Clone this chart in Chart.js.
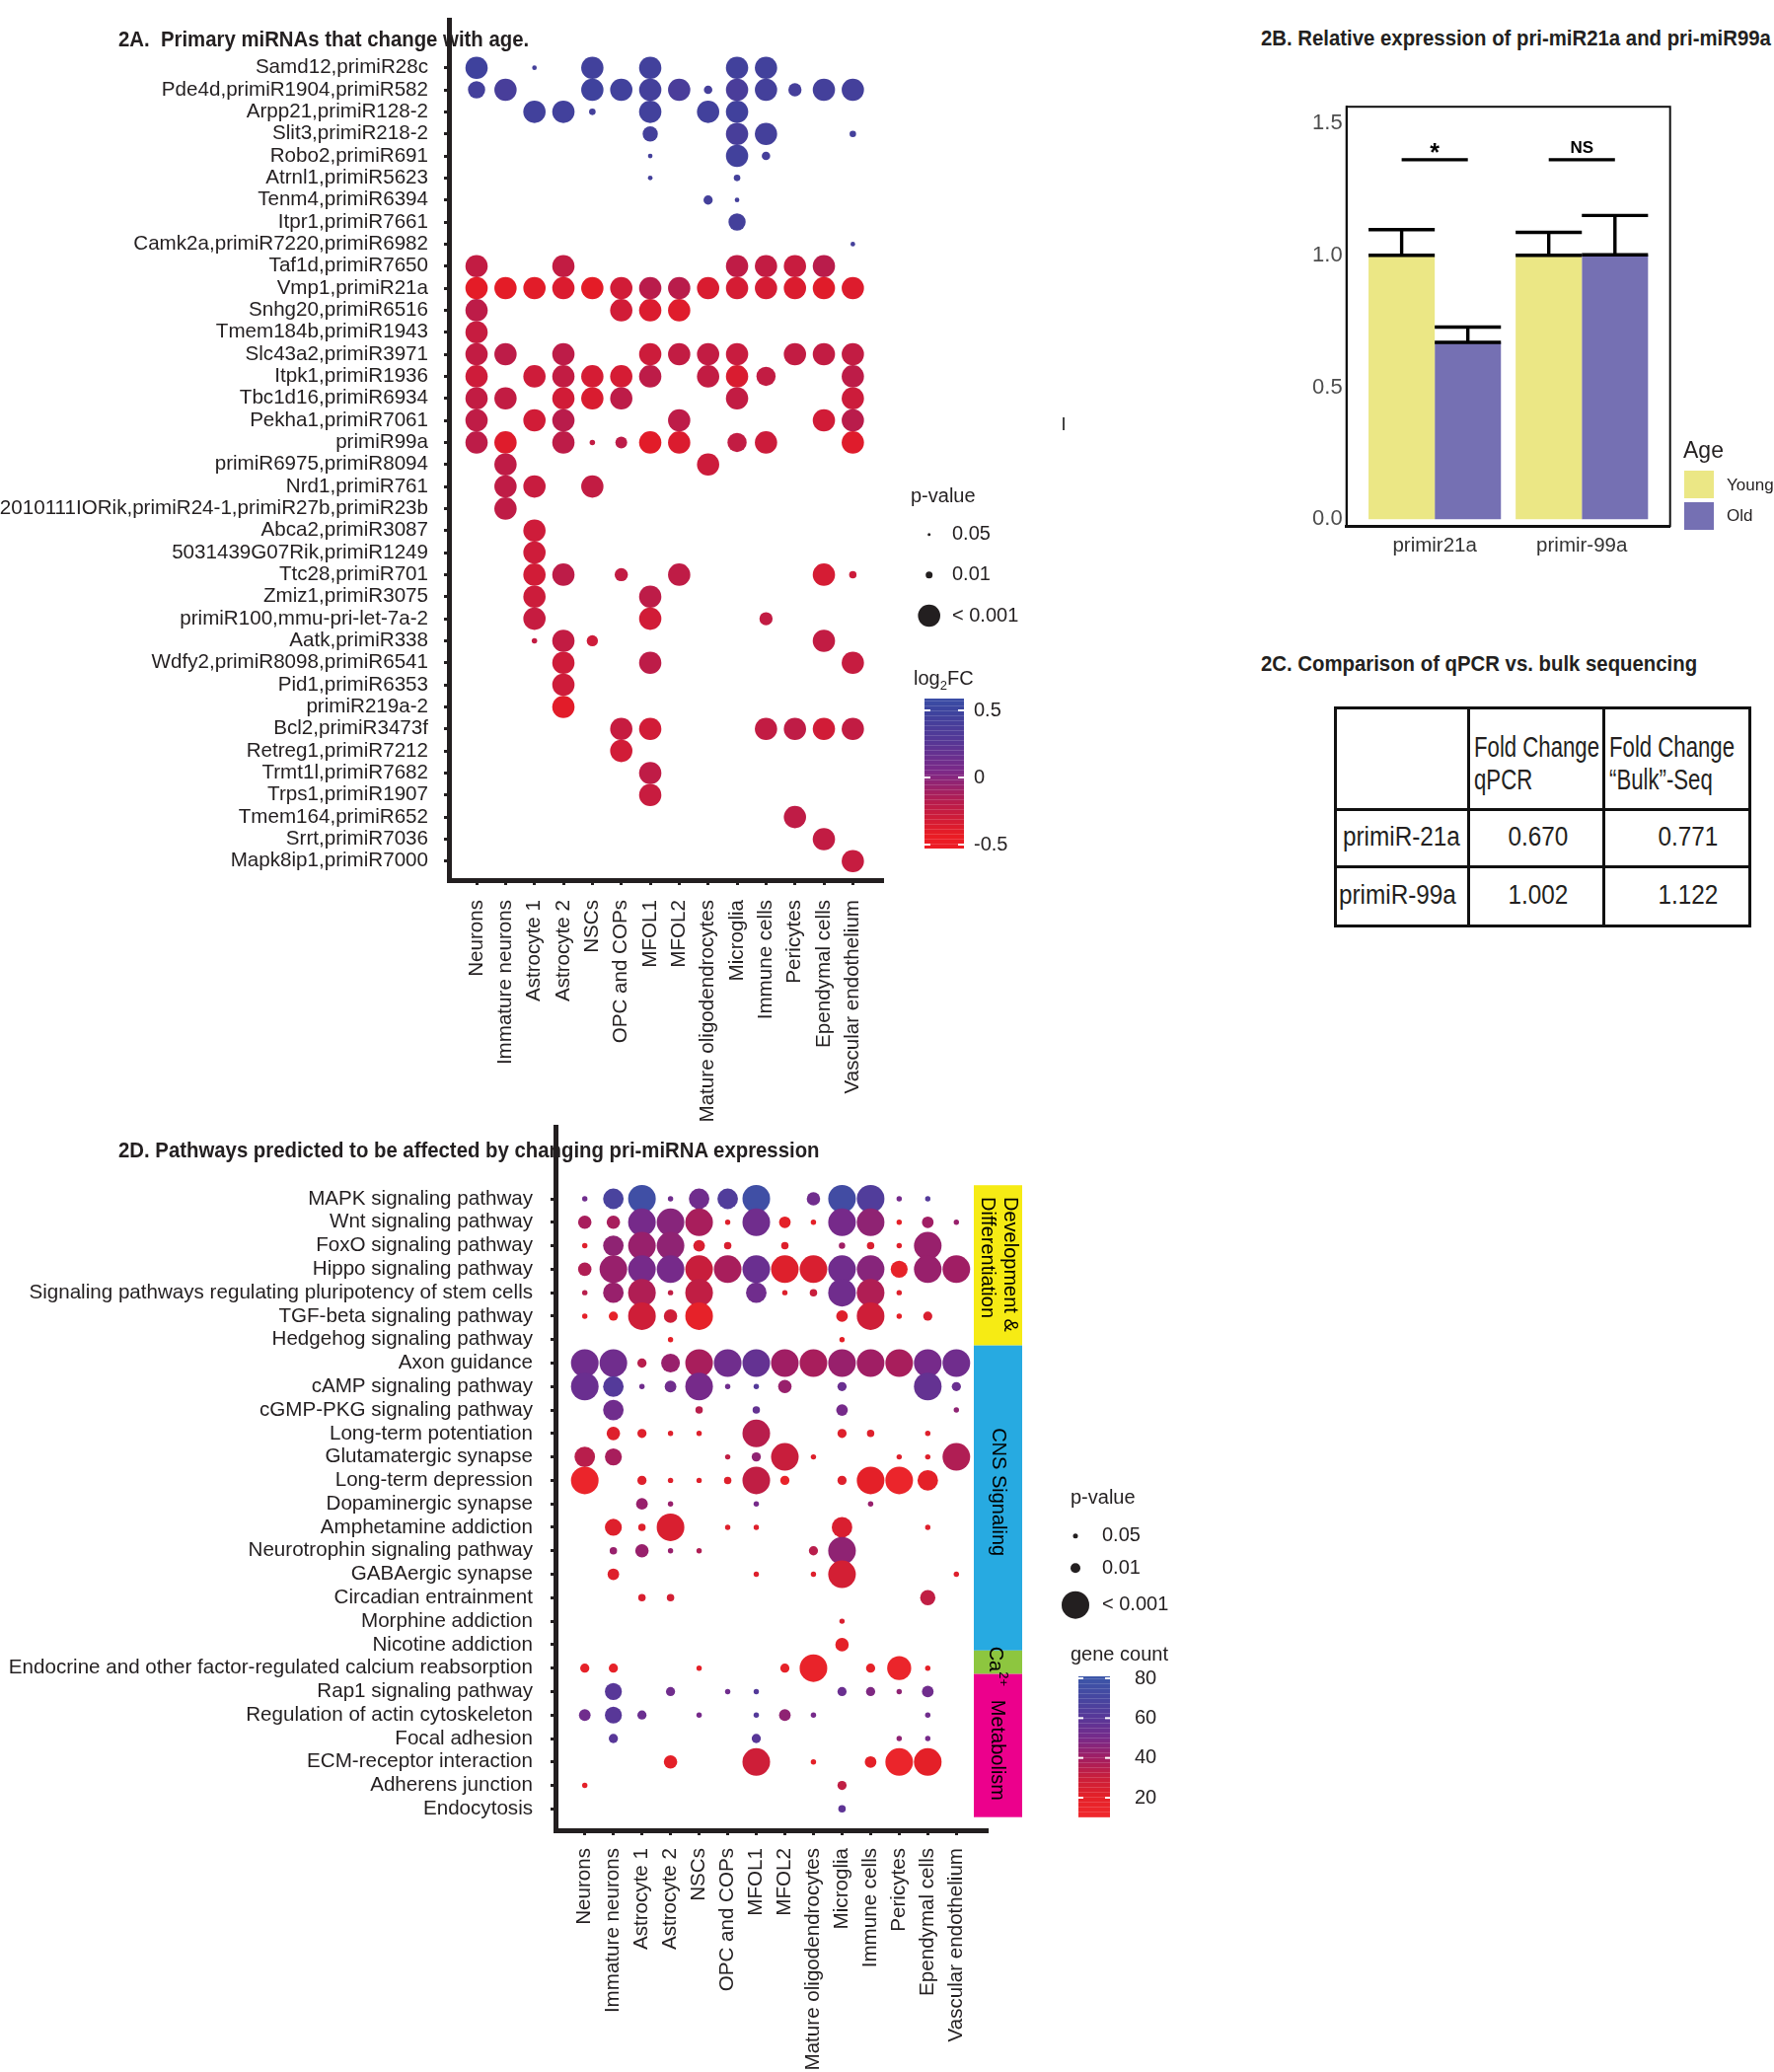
<!DOCTYPE html>
<html>
<head>
<meta charset="utf-8">
<title>Figure 2</title>
<script src="https://cdn.jsdelivr.net/npm/chart.js@4.4.1/dist/chart.umd.min.js"></script>
<style>
  html, body { margin: 0; padding: 0; background: #fff; }
  body { position: relative; width: 1798px; height: 2100px; overflow: hidden;
         font-family: "Liberation Sans", Arial, sans-serif; color: #231f20; }
  canvas { position: absolute; }
  .ttl { position: absolute; white-space: nowrap; font-weight: bold; font-size: 22px; line-height: 24px;
         transform: scaleX(0.925); transform-origin: 0 0; z-index: 2; }
  #fc-table { position: absolute; left: 1352px; top: 716px; width: 420px; border-collapse: collapse;
              table-layout: fixed; color: #231f20; }
  #fc-table td { box-sizing: border-box; border: 3px solid #111; padding: 0; line-height: 33px;
                 white-space: nowrap; overflow: visible; }
  .nar { display: inline-block; white-space: nowrap; }
  .age-leg { position: absolute; white-space: nowrap; }
  .sw { position: absolute; width: 30px; height: 28px; }
  #cursor { position: absolute; left: 1077px; top: 423px; width: 2px; height: 13px; background: #444; }
</style>
</head>
<body>

<div class="ttl" style="left:120px; top:28px;">2A.&nbsp; Primary miRNAs that change with age.</div>
<div class="ttl" style="left:1278px; top:27px;">2B. Relative expression of pri-miR21a and pri-miR99a</div>
<div class="ttl" style="left:1278px; top:661px;">2C. Comparison of qPCR vs. bulk sequencing</div>
<div class="ttl" style="left:120px; top:1154px;">2D. Pathways predicted to be affected by changing pri-miRNA expression</div>

<canvas id="c2a" width="1100" height="1150" style="left:0; top:0;"></canvas>
<canvas id="c2d" width="1300" height="1000" style="left:0; top:1100px;"></canvas>
<canvas id="c2b" width="518" height="500" style="left:1280px; top:90px;"></canvas>

<div class="age-leg" style="left:1706px; top:443px; font-size:23px;">Age</div>
<div class="sw" style="left:1707px; top:477px; background:#ebe785;"></div>
<div class="sw" style="left:1707px; top:509px; background:#7570b3;"></div>
<div class="age-leg" style="left:1750px; top:482px; font-size:17px;">Young</div>
<div class="age-leg" style="left:1750px; top:513px; font-size:17px;">Old</div>
<div id="cursor"></div>

<table id="fc-table"><colgroup><col style="width:135px"><col style="width:137px"><col style="width:148px"></colgroup></table>

<script>
// ---- 2A data: primary miRNAs x cell types ----
const cellTypes = ['Neurons', 'Immature neurons', 'Astrocyte 1', 'Astrocyte 2', 'NSCs', 'OPC and COPs',
  'MFOL1', 'MFOL2', 'Mature oligodendrocytes', 'Microglia', 'Immune cells', 'Pericytes',
  'Ependymal cells', 'Vascular endothelium'];

const primiRNAs = ['Samd12,primiR28c', 'Pde4d,primiR1904,primiR582', 'Arpp21,primiR128-2', 'Slit3,primiR218-2',
  'Robo2,primiR691', 'Atrnl1,primiR5623', 'Tenm4,primiR6394', 'Itpr1,primiR7661', 'Camk2a,primiR7220,primiR6982',
  'Taf1d,primiR7650', 'Vmp1,primiR21a', 'Snhg20,primiR6516', 'Tmem184b,primiR1943', 'Slc43a2,primiR3971',
  'Itpk1,primiR1936', 'Tbc1d16,primiR6934', 'Pekha1,primiR7061', 'primiR99a', 'primiR6975,primiR8094',
  'Nrd1,primiR761', '2010111IORik,primiR24-1,primiR27b,primiR23b', 'Abca2,primiR3087', '5031439G07Rik,primiR1249',
  'Ttc28,primiR701', 'Zmiz1,primiR3075', 'primiR100,mmu-pri-let-7a-2', 'Aatk,primiR338', 'Wdfy2,primiR8098,primiR6541',
  'Pid1,primiR6353', 'primiR219a-2', 'Bcl2,primiR3473f', 'Retreg1,primiR7212', 'Trmt1l,primiR7682',
  'Trps1,primiR1907', 'Tmem164,primiR652', 'Srrt,primiR7036', 'Mapk8ip1,primiR7000'];

// [row, cell type, log2FC, -log10(p)]
const primiDots = [
  [0,0,0.47,3],[0,2,0.42,1.6],[0,4,0.44,3],[0,6,0.44,3],[0,9,0.44,3],[0,10,0.44,3],
  [1,0,0.42,2.67],[1,1,0.38,3],[1,4,0.47,3],[1,5,0.45,3],[1,6,0.42,3],[1,7,0.36,3],[1,8,0.4,2.1],[1,9,0.36,3],
  [1,10,0.42,3],[1,11,0.4,2.41],[1,12,0.42,3],[1,13,0.42,3],
  [2,2,0.44,3],[2,3,0.44,3],[2,4,0.42,1.93],[2,6,0.44,3],[2,8,0.44,3],[2,9,0.45,3],
  [3,6,0.42,2.54],[3,9,0.38,3],[3,10,0.42,3],[3,13,0.42,1.93],
  [4,6,0.42,1.6],[4,9,0.44,3],[4,10,0.4,2.1],
  [5,6,0.42,1.6],[5,9,0.42,1.93],
  [6,8,0.42,2.15],[6,9,0.42,1.6],
  [7,9,0.42,2.67],
  [8,13,0.42,1.6],
  [9,0,-0.3,3],[9,3,-0.3,3],[9,9,-0.28,3],[9,10,-0.3,3],[9,11,-0.33,3],[9,12,-0.25,3],
  [10,0,-0.48,3],[10,1,-0.48,3],[10,2,-0.47,3],[10,3,-0.43,3],[10,4,-0.48,3],[10,5,-0.38,3],[10,6,-0.25,3],
  [10,7,-0.25,3],[10,8,-0.42,3],[10,9,-0.4,3],[10,10,-0.4,3],[10,11,-0.43,3],[10,12,-0.46,3],[10,13,-0.44,3],
  [11,0,-0.27,3],[11,5,-0.38,3],[11,6,-0.43,3],[11,7,-0.45,3],
  [12,0,-0.32,3],
  [13,0,-0.3,3],[13,1,-0.27,3],[13,3,-0.27,3],[13,6,-0.35,3],[13,7,-0.3,3],[13,8,-0.3,3],[13,9,-0.33,3],
  [13,11,-0.3,3],[13,12,-0.3,3],[13,13,-0.3,3],
  [14,0,-0.36,3],[14,2,-0.36,3],[14,3,-0.3,3],[14,4,-0.4,3],[14,5,-0.4,3],[14,6,-0.27,3],[14,8,-0.3,3],
  [14,9,-0.42,3],[14,10,-0.3,2.8],[14,13,-0.27,3],
  [15,0,-0.3,3],[15,1,-0.3,3],[15,3,-0.38,3],[15,4,-0.42,3],[15,5,-0.27,3],[15,9,-0.3,3],[15,13,-0.35,3],
  [16,0,-0.28,3],[16,2,-0.38,3],[16,3,-0.25,3],[16,7,-0.27,3],[16,12,-0.38,3],[16,13,-0.25,3],
  [17,0,-0.27,3],[17,1,-0.45,3],[17,3,-0.27,3],[17,4,-0.3,1.74],[17,5,-0.27,2.32],[17,6,-0.47,3],
  [17,7,-0.43,3],[17,9,-0.3,2.8],[17,10,-0.35,3],[17,13,-0.45,3],
  [18,1,-0.28,3],[18,8,-0.35,3],
  [19,1,-0.28,3],[19,2,-0.33,3],[19,4,-0.3,3],
  [20,1,-0.28,3],
  [21,2,-0.36,3],
  [22,2,-0.36,3],
  [23,2,-0.38,3],[23,3,-0.27,3],[23,5,-0.3,2.41],[23,7,-0.28,3],[23,12,-0.4,3],[23,13,-0.35,2.03],
  [24,2,-0.35,3],[24,6,-0.27,3],
  [25,2,-0.32,3],[25,6,-0.38,3],[25,10,-0.3,2.41],
  [26,2,-0.3,1.74],[26,3,-0.3,3],[26,4,-0.36,2.28],[26,12,-0.3,3],
  [27,3,-0.36,3],[27,6,-0.27,3],[27,13,-0.32,3],
  [28,3,-0.36,3],
  [29,3,-0.47,3],
  [30,5,-0.32,3],[30,6,-0.38,3],[30,10,-0.3,3],[30,11,-0.28,3],[30,12,-0.38,3],[30,13,-0.3,3],
  [31,5,-0.38,3],
  [32,6,-0.28,3],
  [33,6,-0.33,3],
  [34,11,-0.28,3],
  [35,12,-0.3,3],
  [36,13,-0.32,3]
];

// ---- 2D data: KEGG pathways x cell types ----
const pathways = ['MAPK signaling pathway', 'Wnt signaling pathway', 'FoxO signaling pathway', 'Hippo signaling pathway',
  'Signaling pathways regulating pluripotency of stem cells', 'TGF-beta signaling pathway', 'Hedgehog signaling pathway',
  'Axon guidance', 'cAMP signaling pathway', 'cGMP-PKG signaling pathway', 'Long-term potentiation',
  'Glutamatergic synapse', 'Long-term depression', 'Dopaminergic synapse', 'Amphetamine addiction',
  'Neurotrophin signaling pathway', 'GABAergic synapse', 'Circadian entrainment', 'Morphine addiction',
  'Nicotine addiction', 'Endocrine and other factor-regulated calcium reabsorption', 'Rap1 signaling pathway',
  'Regulation of actin cytoskeleton', 'Focal adhesion', 'ECM-receptor interaction', 'Adherens junction', 'Endocytosis'];

// [row, cell type, gene count, -log10(p)]
const pathwayDots = [
  [0,0,52,1.36],[0,1,68,2.6],[0,2,76,3],[0,3,52,1.36],[0,4,52,2.6],[0,5,64,2.6],[0,6,76,3],[0,8,52,2.2],
  [0,9,74,3],[0,10,64,3],[0,11,50,1.36],[0,12,62,1.36],
  [1,0,38,2.2],[1,1,38,2.2],[1,2,50,3],[1,3,46,3],[1,4,38,3],[1,5,22,1.36],[1,6,52,3],[1,7,20,2.1],
  [1,8,20,1.36],[1,9,50,3],[1,10,44,3],[1,11,20,1.36],[1,12,40,2.1],[1,13,42,1.36],
  [2,0,22,1.36],[2,1,44,2.6],[2,2,42,3],[2,3,44,3],[2,4,24,2.1],[2,5,24,1.65],[2,7,22,1.65],[2,9,40,1.5],
  [2,10,24,1.65],[2,11,22,1.36],[2,12,42,3],
  [3,0,36,2.2],[3,1,42,3],[3,2,50,3],[3,3,50,3],[3,4,30,3],[3,5,38,3],[3,6,54,3],[3,7,22,3],[3,8,24,3],
  [3,9,52,3],[3,10,46,3],[3,11,18,2.4],[3,12,42,3],[3,13,40,3],
  [4,0,34,1.36],[4,1,42,2.6],[4,2,36,3],[4,3,32,1.36],[4,4,32,3],[4,6,52,2.6],[4,7,22,1.36],[4,8,30,1.65],
  [4,9,52,3],[4,10,36,3],[4,11,22,1.36],
  [5,0,20,1.36],[5,1,18,1.9],[5,2,28,3],[5,3,28,2.2],[5,4,18,3],[5,9,22,2.1],[5,10,28,3],[5,11,20,1.36],[5,12,24,1.9],
  [6,3,20,1.36],[6,9,20,1.36],
  [7,0,52,3],[7,1,52,3],[7,2,34,1.9],[7,3,42,2.5],[7,4,38,3],[7,5,52,3],[7,6,56,3],[7,7,40,3],[7,8,38,3],
  [7,9,42,3],[7,10,40,3],[7,11,38,3],[7,12,50,3],[7,13,52,3],
  [8,0,54,3],[8,1,62,2.6],[8,2,52,1.36],[8,3,52,2.1],[8,4,50,3],[8,5,52,1.36],[8,6,62,1.36],[8,7,42,2.2],
  [8,9,54,1.9],[8,12,56,3],[8,13,54,1.9],
  [9,1,52,2.6],[9,4,34,1.65],[9,6,56,1.65],[9,9,50,2.1],[9,13,44,1.36],
  [10,1,22,2.2],[10,2,22,1.9],[10,3,22,1.36],[10,4,22,1.36],[10,6,34,3],[10,9,22,1.9],[10,10,22,1.65],[10,12,22,1.36],
  [11,0,34,2.6],[11,1,38,2.4],[11,5,32,1.36],[11,6,44,1.9],[11,7,30,3],[11,8,22,1.36],[11,11,22,1.36],
  [11,12,22,1.36],[11,13,36,3],
  [12,0,14,3],[12,2,22,1.9],[12,3,22,1.36],[12,4,22,1.36],[12,5,22,1.65],[12,6,32,3],[12,7,16,1.9],
  [12,9,22,1.9],[12,10,20,3],[12,11,14,3],[12,12,20,2.6],
  [13,2,42,2.1],[13,3,42,1.36],[13,6,50,1.36],[13,10,42,1.36],
  [14,1,22,2.4],[14,2,22,1.65],[14,3,24,3],[14,5,22,1.36],[14,6,22,1.36],[14,9,24,2.6],[14,12,22,1.36],
  [15,1,42,1.65],[15,2,42,2.2],[15,3,42,1.36],[15,4,36,1.36],[15,8,34,1.9],[15,9,44,3],
  [16,1,22,2.1],[16,6,22,1.36],[16,8,22,1.36],[16,9,26,3],[16,13,22,1.36],
  [17,2,24,1.65],[17,3,26,1.65],[17,12,32,2.3],
  [18,9,24,1.36],
  [19,9,20,2.2],
  [20,0,18,1.9],[20,1,18,1.9],[20,4,20,1.36],[20,7,18,1.9],[20,8,16,3],[20,10,18,1.9],[20,11,14,2.8],[20,12,20,1.36],
  [21,1,60,2.4],[21,3,52,1.9],[21,5,52,1.36],[21,6,62,1.36],[21,9,54,1.9],[21,10,48,1.9],[21,11,44,1.36],[21,12,52,2.1],
  [22,0,52,2.1],[22,1,60,2.4],[22,2,54,1.9],[22,4,50,1.36],[22,6,62,1.36],[22,7,44,2.1],[22,8,50,1.36],[22,12,52,1.36],
  [23,1,60,1.9],[23,6,60,1.9],[23,11,44,1.36],[23,12,50,1.36],
  [24,3,20,2.2],[24,6,28,3],[24,8,20,1.36],[24,10,20,2.1],[24,11,14,3],[24,12,20,3],
  [25,0,20,1.36],[25,9,32,1.9],
  [26,9,58,1.65]
];

const pathwayGroups = [['Development &', 'Differentiation'], ['CNS Signaling'], ['Ca'], ['Metabolism']];
const groupFirstRow = [0, 7, 20, 21];
const groupLastRow = [6, 19, 20, 26];

// legend breaks
const pBreaks = [0.05, 0.01, 0.001];
const pBreakText = ['0.05', '0.01', '< 0.001'];
const fcBreaks = [0.5, 0, -0.5];
const countBreaks = [80, 60, 40, 20];

// ---- 2B / 2C data ----
const genes = ['primir21a', 'primir-99a'];
const youngMean = [1.0, 1.0];
const oldMean = [0.67, 1.002];
const youngSE = [0.097, 0.087];
const oldSE = [0.058, 0.149];
const sigText = ['*', 'NS'];
const sigLevel = 1.362;

const tableGenes = ['primiR-21a', 'primiR-99a'];
const qpcrFC = ['0.670', '1.002'];
const bulkFC = ['0.771', '1.122'];

// ---- helpers ----
const INK = '#231f20';
const FONT = '"Liberation Sans", Arial, sans-serif';
Chart.defaults.font.family = FONT;
Chart.defaults.color = INK;

function ramp(stops, v) {
  if (v <= stops[0][0]) return stops[0][1];
  for (let i = 1; i < stops.length; i++) {
    if (v <= stops[i][0]) {
      const [v0, c0] = stops[i - 1], [v1, c1] = stops[i];
      const t = (v - v0) / (v1 - v0);
      return Array.isArray(c0) ? c0.map((c, k) => c + (c1[k] - c) * t) : c0 + (c1 - c0) * t;
    }
  }
  return stops[stops.length - 1][1];
}
const rgb = c => `rgb(${c.map(Math.round).join(',')})`;

const fcStops = [[-0.55, [236, 28, 36]], [-0.5, [232, 28, 36]], [-0.25, [185, 28, 75]], [0, [125, 40, 135]],
  [0.25, [85, 55, 150]], [0.5, [60, 68, 158]], [0.6, [58, 78, 166]]];
const countStops = [[10, [240, 40, 45]], [20, [228, 32, 40]], [30, [200, 30, 60]], [40, [160, 30, 100]],
  [50, [118, 42, 138]], [60, [88, 55, 152]], [70, [70, 70, 160]], [80, [60, 85, 168]], [85, [58, 90, 170]]];
const sizeA = [[1.3, 1.5], [2, 3.5], [3, 11.3]];
const sizeD = [[1.3, 2.5], [2, 5], [3, 14]];

const fcColor = v => rgb(ramp(fcStops, v));
const countColor = v => rgb(ramp(countStops, v));

// linear axis that labels the integer positions 0..n-1 with names
function dotScale(labels, min, max, tickOpts, extra) {
  return Object.assign({
    type: 'linear', min, max, bounds: 'data',
    afterBuildTicks: s => { s.ticks = labels.map((_, i) => ({ value: i })); },
    ticks: Object.assign({ callback: v => labels[v], autoSkip: false, font: { size: 20.6 }, color: INK }, tickOpts),
    grid: { drawOnChartArea: false, drawTicks: true, tickLength: 5, color: INK, lineWidth: 3 },
    border: { display: true, color: INK, width: 5 }
  }, extra);
}

function colourBar(ctx, x, y0, y1, vTop, vBottom, colorFn, w) {
  for (let py = y0; py < y1; py++) {
    const v = vTop + (vBottom - vTop) * (py - y0) / (y1 - y0);
    ctx.fillStyle = colorFn(v);
    ctx.fillRect(x, py, w, 1);
  }
  ctx.fillStyle = 'rgba(255,255,255,0.16)';
  for (let py = y0 + 2; py < y1; py += 5) ctx.fillRect(x, py, w, 1);
}

// ---- 2A bubble grid ----
const legendA = {
  id: 'legendA',
  afterDraw(chart) {
    const ctx = chart.ctx;
    ctx.save();
    ctx.fillStyle = INK;
    ctx.font = '20px ' + FONT;
    ctx.textBaseline = 'middle';
    ctx.textAlign = 'left';
    ctx.fillText('p-value', 923, 503);
    const ys = [541.7, 582.7, 624];
    pBreaks.forEach((p, i) => {
      ctx.beginPath();
      ctx.arc(941.7, ys[i], ramp(sizeA, -Math.log10(p)), 0, Math.PI * 2);
      ctx.fill();
      ctx.fillText(pBreakText[i], 965, ys[i]);
    });
    ctx.fillText('log', 926, 688);
    let w = ctx.measureText('log').width;
    ctx.font = '13px ' + FONT;
    ctx.fillText('2', 926 + w, 695);
    w += ctx.measureText('2').width;
    ctx.font = '20px ' + FONT;
    ctx.fillText('FC', 926 + w, 688);
    // colour bar: 0.5 at y=720, -0.5 at y=856
    const pxPer = 136, yAt = v => 720 + (0.5 - v) * pxPer;
    colourBar(ctx, 937, 708, 860, 0.5 + 12 / pxPer, 0.5 - 152 / pxPer, fcColor, 40);
    ctx.fillStyle = '#fff';
    fcBreaks.forEach(v => {
      ctx.fillRect(937, yAt(v) - 1, 6, 2);
      ctx.fillRect(971, yAt(v) - 1, 6, 2);
    });
    ctx.fillStyle = INK;
    fcBreaks.forEach(v => ctx.fillText(String(v), 987, yAt(v)));
    ctx.restore();
  }
};

new Chart(document.getElementById('c2a'), {
  type: 'scatter',
  data: {
    datasets: [{
      data: primiDots.map(d => ({ x: d[1], y: d[0], fc: d[2], p: d[3] })),
      pointRadius: c => ramp(sizeA, c.raw.p),
      pointBackgroundColor: c => fcColor(c.raw.fc),
      pointBorderWidth: 0,
      clip: false
    }]
  },
  options: {
    responsive: false, animation: false, events: [],
    layout: { padding: { top: 20, right: 206, left: 0, bottom: 0 } },
    scales: {
      x: dotScale(cellTypes, -0.955, 14.01, { minRotation: 90, maxRotation: 90, padding: 15 }, {
        position: 'bottom',
        afterFit: s => { s.height = 258; }
      }),
      y: dotScale(primiRNAs, -2.18, 36.86, { padding: 16 }, {
        reverse: true,
        afterFit: s => { s.width = 455; s.paddingTop = 0; s.paddingBottom = 0; }
      })
    },
    plugins: { legend: { display: false }, tooltip: { enabled: false } }
  },
  plugins: [legendA]
});

// ---- 2D bubble grid ----
const legendD = {
  id: 'legendD',
  afterDraw(chart) {
    const ctx = chart.ctx, top = 1100;
    const y = chart.scales.y;
    ctx.save();
    // group side bars
    const colors = ['#f6eb14', '#27aae1', '#8dc63f', '#ec008c'];
    pathwayGroups.forEach((g, i) => {
      const t = i === 0 ? groupFirstRow[i] - 0.58 : groupLastRow[i - 1] + 0.25;
      const b = i === pathwayGroups.length - 1 ? groupLastRow[i] + 0.35 : groupLastRow[i] + 0.25;
      const yt = y.getPixelForValue(t), yb = y.getPixelForValue(b);
      ctx.fillStyle = colors[i];
      ctx.fillRect(987, yt, 49, yb - yt);
    });
    ctx.fillStyle = '#000';
    ctx.font = '20px ' + FONT;
    ctx.textBaseline = 'middle';
    const vtext = (txt, x, yy, align) => {
      ctx.save(); ctx.translate(x, yy); ctx.rotate(Math.PI / 2);
      ctx.textAlign = align; ctx.fillText(txt, 0, 0); ctx.restore();
    };
    const y0 = y.getPixelForValue(groupFirstRow[0]);
    vtext(pathwayGroups[0][0], 1024, y0 - 2, 'left');
    vtext(pathwayGroups[0][1], 1001, y0 - 2, 'left');
    const mid = i => (y.getPixelForValue(groupFirstRow[i]) + y.getPixelForValue(groupLastRow[i])) / 2;
    vtext(pathwayGroups[1][0], 1012, mid(1) - 12, 'center');
    vtext(pathwayGroups[3][0], 1011, mid(3), 'center');
    // Ca2+ with superscript
    const caTop = y.getPixelForValue(groupFirstRow[2]) - 22;
    vtext(pathwayGroups[2][0], 1009, caTop, 'left');
    const caW = ctx.measureText(pathwayGroups[2][0]).width;
    ctx.font = '13px ' + FONT;
    vtext('2+', 1017, caTop + caW, 'left');

    // p-value legend
    ctx.fillStyle = INK;
    ctx.font = '20px ' + FONT;
    ctx.textAlign = 'left';
    ctx.fillText('p-value', 1085, 1518 - top);
    const ys = [1556.7, 1589.3, 1626.7];
    pBreaks.forEach((p, i) => {
      ctx.beginPath();
      ctx.arc(1090, ys[i] - top, ramp(sizeD, -Math.log10(p)), 0, Math.PI * 2);
      ctx.fill();
      ctx.fillText(pBreakText[i], 1117, ys[i] - top);
    });
    ctx.fillText('gene count', 1085, 1677 - top);
    // colour bar: 80 at 1701, 20 at 1822
    const pxPer = 121 / 60, yAt = v => 1701 - top + (80 - v) * pxPer;
    colourBar(ctx, 1093, 1699 - top, 1842 - top, 80 + 2 / pxPer, 80 - 143 / pxPer, countColor, 32);
    ctx.fillStyle = '#fff';
    countBreaks.forEach(v => {
      ctx.fillRect(1093, yAt(v) - 1, 5, 2);
      ctx.fillRect(1120, yAt(v) - 1, 5, 2);
    });
    ctx.fillStyle = INK;
    countBreaks.forEach(v => ctx.fillText(String(v), 1150, yAt(v)));
    ctx.restore();
  }
};

new Chart(document.getElementById('c2d'), {
  type: 'scatter',
  data: {
    datasets: [{
      data: pathwayDots.map(d => ({ x: d[1], y: d[0], n: d[2], p: d[3] })),
      pointRadius: c => ramp(sizeD, c.raw.p),
      pointBackgroundColor: c => countColor(c.raw.n),
      pointBorderWidth: 0,
      clip: false
    }]
  },
  options: {
    responsive: false, animation: false, events: [],
    layout: { padding: { top: 42, right: 300, left: 0, bottom: 0 } },
    scales: {
      x: dotScale(cellTypes, -1.025, 14.06, { minRotation: 90, maxRotation: 90, padding: 13 }, {
        position: 'bottom',
        afterFit: s => { s.height = 245; }
      }),
      y: dotScale(pathways, -3.07, 26.91, { padding: 18 }, {
        reverse: true,
        afterFit: s => { s.width = 563; s.paddingTop = 0; s.paddingBottom = 0; }
      })
    },
    plugins: { legend: { display: false }, tooltip: { enabled: false } }
  },
  plugins: [legendD]
});

// ---- 2B bar chart ----
const errorBars = {
  id: 'errorBars',
  afterDatasetsDraw(chart) {
    const { ctx, chartArea: a, scales: { y } } = chart;
    ctx.save();
    ctx.strokeStyle = '#000';
    ctx.lineWidth = 3.4;
    [youngSE, oldSE].forEach((se, di) => {
      chart.getDatasetMeta(di).data.forEach((bar, j) => {
        const mean = chart.data.datasets[di].data[j].y;
        const yt = y.getPixelForValue(mean + se[j]), ym = y.getPixelForValue(mean);
        const h = bar.width / 2;
        ctx.beginPath();
        ctx.moveTo(bar.x - h, yt); ctx.lineTo(bar.x + h, yt);
        ctx.moveTo(bar.x - h, ym); ctx.lineTo(bar.x + h, ym);
        ctx.moveTo(bar.x, yt); ctx.lineTo(bar.x, ym);
        ctx.stroke();
      });
    });
    const sy = y.getPixelForValue(sigLevel);
    ctx.fillStyle = '#000';
    ctx.textAlign = 'center';
    ctx.textBaseline = 'alphabetic';
    genes.forEach((g, j) => {
      const b0 = chart.getDatasetMeta(0).data[j], b1 = chart.getDatasetMeta(1).data[j];
      ctx.lineWidth = 3.2;
      ctx.beginPath(); ctx.moveTo(b0.x, sy); ctx.lineTo(b1.x, sy); ctx.stroke();
      const big = sigText[j] === '*';
      ctx.font = 'bold ' + (big ? 25 : 17) + 'px ' + FONT;
      ctx.fillText(sigText[j], (b0.x + b1.x) / 2, big ? sy + 1 : sy - 7);
    });
    ctx.lineWidth = 2;
    ctx.strokeStyle = '#111';
    ctx.strokeRect(a.left, a.top, a.width, a.height);
    ctx.restore();
  }
};

new Chart(document.getElementById('c2b'), {
  type: 'bar',
  data: {
    datasets: [
      { label: 'Young', data: genes.map((g, i) => ({ x: i + 1, y: youngMean[i] })), backgroundColor: '#ebe785' },
      { label: 'Old', data: genes.map((g, i) => ({ x: i + 1, y: oldMean[i] })), backgroundColor: '#7570b3' }
    ]
  },
  options: {
    responsive: false, animation: false, events: [],
    layout: { padding: { top: 18.2, right: 105.3, left: 0, bottom: 0 } },
    datasets: { bar: { categoryPercentage: 0.9, barPercentage: 1, borderWidth: 0 } },
    scales: {
      x: {
        type: 'linear', min: 0.4, max: 2.6, offset: false, bounds: 'data',
        afterBuildTicks: s => { s.ticks = genes.map((g, i) => ({ value: i + 1 })); },
        ticks: { callback: v => genes[v - 1], font: { size: 20.5 }, color: '#333', padding: 8, maxRotation: 0 },
        grid: { display: false, drawTicks: false },
        border: { display: true, color: '#111', width: 3 },
        afterFit: s => { s.height = 56.9; }
      },
      y: {
        min: -0.026, max: 1.563, bounds: 'data',
        afterBuildTicks: s => { s.ticks = [0, 0.5, 1, 1.5].map(v => ({ value: v })); },
        ticks: { callback: v => v.toFixed(1), font: { size: 22 }, color: '#4d4d4d', padding: -4 },
        grid: { display: false },
        border: { display: true, color: '#111', width: 2 },
        afterFit: s => { s.width = 84.7; }
      }
    },
    plugins: { legend: { display: false }, tooltip: { enabled: false } }
  },
  plugins: [errorBars]
});

// ---- 2C table ----
(function buildTable() {
  const t = document.getElementById('fc-table');
  const heights = [103, 58, 60];
  const rows = [
    ['', 'Fold Change<br>qPCR', 'Fold Change<br>\u201cBulk\u201d-Seq'],
    [tableGenes[0], qpcrFC[0], bulkFC[0]],
    [tableGenes[1], qpcrFC[1], bulkFC[1]]
  ];
  rows.forEach((r, ri) => {
    const tr = document.createElement('tr');
    r.forEach((txt, ci) => {
      const td = document.createElement('td');
      const sp = document.createElement('span');
      sp.className = 'nar';
      sp.innerHTML = txt;
      td.appendChild(sp);
      td.style.height = heights[ri] + 'px';
      if (ri === 0) {
        td.style.verticalAlign = 'middle'; td.style.paddingLeft = '4px'; td.style.paddingTop = '14px';
        sp.style.fontSize = '29px'; sp.style.transform = 'scaleX(0.765)'; sp.style.transformOrigin = '0 50%';
      } else if (ci === 0) {
        td.style.paddingLeft = ri === 1 ? '6px' : '2px';
        sp.style.fontSize = '27px'; sp.style.transform = 'scaleX(0.9)'; sp.style.transformOrigin = '0 50%';
      } else {
        td.style.textAlign = 'center'; td.style.paddingLeft = ci === 2 ? '22px' : '4px';
        sp.style.fontSize = '27px'; sp.style.transform = 'scaleX(0.9)'; sp.style.transformOrigin = '50% 50%';
      }
      tr.appendChild(td);
    });
    t.appendChild(tr);
  });
})();
</script>
</body>
</html>
